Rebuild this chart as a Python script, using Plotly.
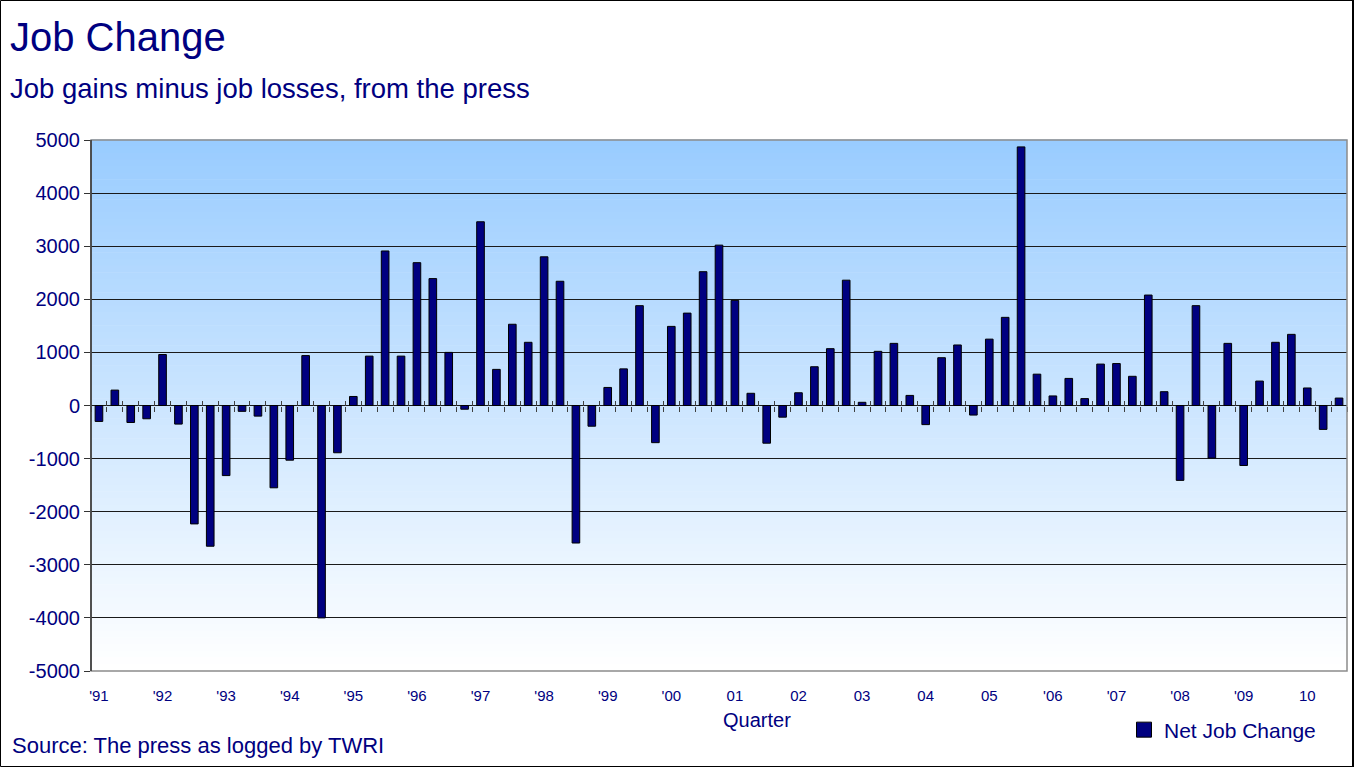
import plotly.graph_objects as go

# ---------------- data ----------------
years = list(range(1991, 2011))
quarters = [f"{y} Q{q}" for y in years for q in range(1, 5)][:79]

net_job_change = [
    -300, 290, -320, -250,      # 1991
    960, -350, -2230, -2650,    # 1992
    -1320, -110, -200, -1550,   # 1993
    -1030, 940, -4000, -890,    # 1994
    170, 930, 2910, 930,        # 1995
    2690, 2390, 1000, -70,      # 1996
    3460, 680, 1530, 1190,      # 1997
    2800, 2340, -2590, -390,    # 1998
    340, 690, 1880, -700,       # 1999
    1490, 1740, 2520, 3020,     # 2000
    1980, 230, -710, -220,      # 2001
    240, 730, 1070, 2360,       # 2002
    60, 1020, 1170, 190,        # 2003
    -360, 900, 1140, -180,      # 2004
    1250, 1660, 4870, 590,      # 2005
    180, 510, 130, 780,         # 2006
    790, 550, 2080, 260,        # 2007
    -1410, 1880, -990, 1170,    # 2008
    -1130, 460, 1190, 1340,     # 2009
    330, -450, 140,             # 2010
]

year_labels = ["'91", "'92", "'93", "'94", "'95", "'96", "'97", "'98", "'99", "'00",
               "01", "02", "03", "04", "05", "'06", "'07", "'08", "'09", "10"]

y_ticks = list(range(-5000, 5001, 1000))
y_min, y_max = -5000, 5000

title_text = "Job Change"
subtitle_text = "Job gains minus job losses, from the press"
source_text = "Source: The press as logged by TWRI"
x_title = "Quarter"
series_name = "Net Job Change"

# ---------------- style ----------------
NAVY = "#000080"
FONT = "Liberation Sans, Arial, sans-serif"
W, H = 1358, 767
ML, MR, MT, MB = 91, 11, 140, 96
PW, PH = W - ML - MR, H - MT - MB


def px_to_paper_x(px):
    return (px - ML) / PW


def px_to_paper_y(py):
    return (H - MB - py) / PH


n = len(net_job_change)
fig = go.Figure()

fig.add_trace(go.Bar(
    x=quarters, y=net_job_change, name=series_name,
    marker=dict(color=NAVY, line=dict(color="black", width=1)),
    showlegend=False, legendgroup="s",
))
# legend proxy with a larger square swatch
fig.add_trace(go.Scatter(
    x=[None], y=[None], mode="markers", name=series_name, legendgroup="s",
    marker=dict(symbol="square", size=15, color=NAVY, line=dict(color="black", width=1)),
    showlegend=True, hoverinfo="skip",
))

# invisible helpers so the tick-only overlay axes are drawn
boundaries = [i - 0.5 for i in range(n + 1)]
for ax in ("x2", "x3"):
    fig.add_trace(go.Scatter(x=[boundaries[0]], y=[0], xaxis=ax, mode="markers",
                             marker=dict(opacity=0), showlegend=False, hoverinfo="skip"))

# gradient plot background
bands = 80
top = (153, 204, 255)
for i in range(bands):
    t = i / (bands - 1)
    c = tuple(round(top[k] + (255 - top[k]) * t) for k in range(3))
    fig.add_shape(type="rect", xref="x domain", yref="y domain",
                  x0=0, x1=1, y0=1 - (i + 1) / bands, y1=1 - i / bands + 0.001,
                  fillcolor=f"rgb{c}", line=dict(width=0), layer="below")

# plot-area border (grey) and left axis line (dark)
fig.add_shape(type="rect", xref="paper", yref="paper", x0=0, x1=1, y0=0, y1=1,
              line=dict(color="#8c8c8c", width=1.5), layer="above")
fig.add_shape(type="line", xref="paper", yref="paper", x0=0, x1=0, y0=0, y1=1,
              line=dict(color="#333333", width=1.5), layer="above")

# outer chart frame
fig.add_shape(type="rect", xref="paper", yref="paper",
              x0=px_to_paper_x(0.5), x1=px_to_paper_x(1352.5),
              y0=px_to_paper_y(766.5), y1=px_to_paper_y(0.5),
              line=dict(color="black", width=1), layer="above")
fig.add_shape(type="line", xref="paper", yref="paper",
              x0=px_to_paper_x(1353), x1=px_to_paper_x(1353),
              y0=px_to_paper_y(767), y1=px_to_paper_y(0),
              line=dict(color="black", width=2), layer="above")

zero_pos = (0 - y_min) / (y_max - y_min)

fig.update_layout(
    width=W, height=H,
    margin=dict(l=ML, r=MR, t=MT, b=MB),
    paper_bgcolor="white",
    plot_bgcolor="white",
    bargap=0.52,
    font=dict(family=FONT, color=NAVY),
    xaxis=dict(
        type="category", categoryorder="array", categoryarray=quarters,
        range=[-0.5, n - 0.5],
        tickmode="array", tickvals=quarters[::4], ticktext=year_labels,
        ticks="", showgrid=False, showline=False, zeroline=False,
        tickfont=dict(size=15, color=NAVY, family=FONT),
        ticklabelstandoff=14,
    ),
    xaxis2=dict(
        overlaying="x", anchor="free", position=zero_pos,
        range=[-0.5, n - 0.5], tickmode="array", tickvals=boundaries,
        ticks="outside", ticklen=5, tickwidth=1, tickcolor="#404040",
        showticklabels=False, showgrid=False, showline=False, zeroline=False,
    ),
    xaxis3=dict(
        overlaying="x", anchor="free", position=zero_pos,
        range=[-0.5, n - 0.5], tickmode="array", tickvals=boundaries,
        ticks="inside", ticklen=5, tickwidth=1, tickcolor="#404040",
        showticklabels=False, showgrid=False, showline=False, zeroline=False,
    ),
    yaxis=dict(
        range=[y_min, y_max], tickmode="array", tickvals=y_ticks,
        ticktext=[str(v) for v in y_ticks],
        ticks="outside", ticklen=6, tickcolor="#333333",
        showgrid=True, gridcolor="#1a1a1a", gridwidth=1,
        zeroline=True, zerolinecolor="#1a1a1a", zerolinewidth=1,
        showline=False,
        tickfont=dict(size=20, color=NAVY, family=FONT),
    ),
    legend=dict(
        x=px_to_paper_x(1124), y=px_to_paper_y(730), xanchor="left", yanchor="middle",
        bgcolor="rgba(0,0,0,0)", font=dict(size=21, color=NAVY, family=FONT),
        itemwidth=30,
    ),
    annotations=[
        dict(text=title_text, xref="paper", yref="paper",
             x=px_to_paper_x(8), y=px_to_paper_y(37), xanchor="left", yanchor="middle",
             showarrow=False, font=dict(size=40, color=NAVY, family=FONT)),
        dict(text=subtitle_text, xref="paper", yref="paper",
             x=px_to_paper_x(8), y=px_to_paper_y(88), xanchor="left", yanchor="middle",
             showarrow=False, font=dict(size=27.5, color=NAVY, family=FONT)),
        dict(text=x_title, xref="paper", yref="paper",
             x=px_to_paper_x(756.5), y=px_to_paper_y(720), xanchor="center", yanchor="middle",
             showarrow=False, font=dict(size=20, color=NAVY, family=FONT)),
        dict(text=source_text, xref="paper", yref="paper",
             x=px_to_paper_x(10), y=px_to_paper_y(745), xanchor="left", yanchor="middle",
             showarrow=False, font=dict(size=22, color=NAVY, family=FONT)),
    ],
)

fig.write_html("out.html", config={"displayModeBar": False},
               post_script="document.body.style.margin='0';document.body.style.overflow='hidden';")
